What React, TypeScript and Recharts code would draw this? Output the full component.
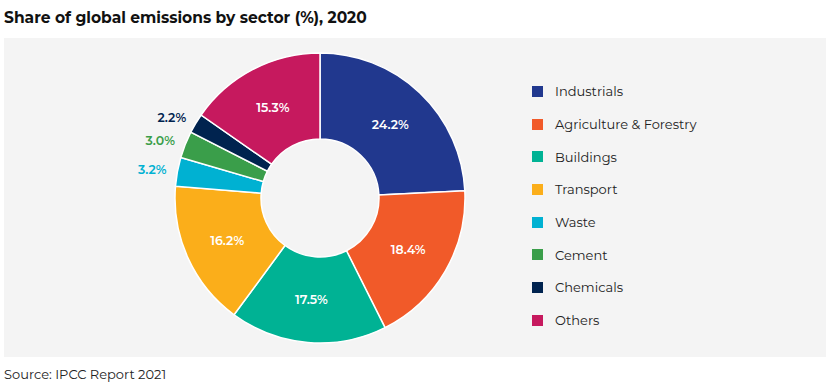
import { PieChart, Pie, Cell, Legend } from 'recharts';

const sectors = [
  'Industrials',
  'Agriculture & Forestry',
  'Buildings',
  'Transport',
  'Waste',
  'Cement',
  'Chemicals',
  'Others',
];
const shares = [24.2, 18.4, 17.5, 16.2, 3.2, 3.0, 2.2, 15.3];
const colors = ['#21388e', '#f15a29', '#00b294', '#fbae1a', '#00b1d2', '#3a9e4a', '#00234f', '#c6195e'];

const data = sectors.map((name, i) => ({ name, value: shares[i] }));

const FONT = 'Montserrat, "Open Sans", sans-serif';
const RAD = Math.PI / 180;

// big slices get a white label inside, small ones a coloured label outside
const renderLabel = (props: any) => {
  const { cx, cy, midAngle, innerRadius, outerRadius, value, index } = props;
  const small = value < 5;
  const r = small ? outerRadius + 11 : (innerRadius + outerRadius) / 2;
  const x = cx + r * Math.cos(-midAngle * RAD);
  const y = cy + r * Math.sin(-midAngle * RAD);
  return (
    <text
      x={x}
      y={y}
      fill={small ? colors[index] : '#ffffff'}
      textAnchor={small ? 'end' : 'middle'}
      dominantBaseline="central"
      fontSize={12.5}
      fontWeight={600}
      fontFamily={FONT}
    >
      {value.toFixed(1)}%
    </text>
  );
};

const renderLegend = () => (
  <div style={{ fontFamily: FONT, fontSize: 13, color: '#222' }}>
    {sectors.map((s, i) => (
      <div key={s} style={{ display: 'flex', alignItems: 'center', height: 32.7 }}>
        <span style={{ width: 11, height: 11, background: colors[i], display: 'inline-block', marginRight: 12 }} />
        <span>{s}</span>
      </div>
    ))}
  </div>
);

export default function App() {
  return (
    <div style={{ position: 'absolute', left: 0, top: 0, width: 830, height: 392, background: '#fff', fontFamily: FONT }}>
      <div style={{ position: 'absolute', left: 4, top: 8, fontSize: 15.5, fontWeight: 700, color: '#111' }}>
        Share of global emissions by sector (%), 2020
      </div>
      <div style={{ position: 'absolute', left: 4, top: 38, width: 822, height: 319, background: '#f4f4f4' }}>
        <PieChart width={822} height={319} margin={{ top: 0, right: 0, bottom: 0, left: 0 }}>
          <Pie
            data={data}
            dataKey="value"
            nameKey="name"
            cx={316}
            cy={160}
            innerRadius={59}
            outerRadius={145}
            startAngle={90}
            endAngle={-270}
            stroke="#ffffff"
            strokeWidth={1.5}
            label={renderLabel}
            labelLine={false}
            isAnimationActive={false}
          >
            {data.map((d, i) => (
              <Cell key={d.name} fill={colors[i]} />
            ))}
          </Pie>
          <Legend
            content={renderLegend}
            layout="vertical"
            wrapperStyle={{ left: 528, top: 37, width: 260 }}
          />
        </PieChart>
      </div>
      <div style={{ position: 'absolute', left: 4, top: 366, fontSize: 13, color: '#222' }}>
        Source: IPCC Report 2021
      </div>
    </div>
  );
}
